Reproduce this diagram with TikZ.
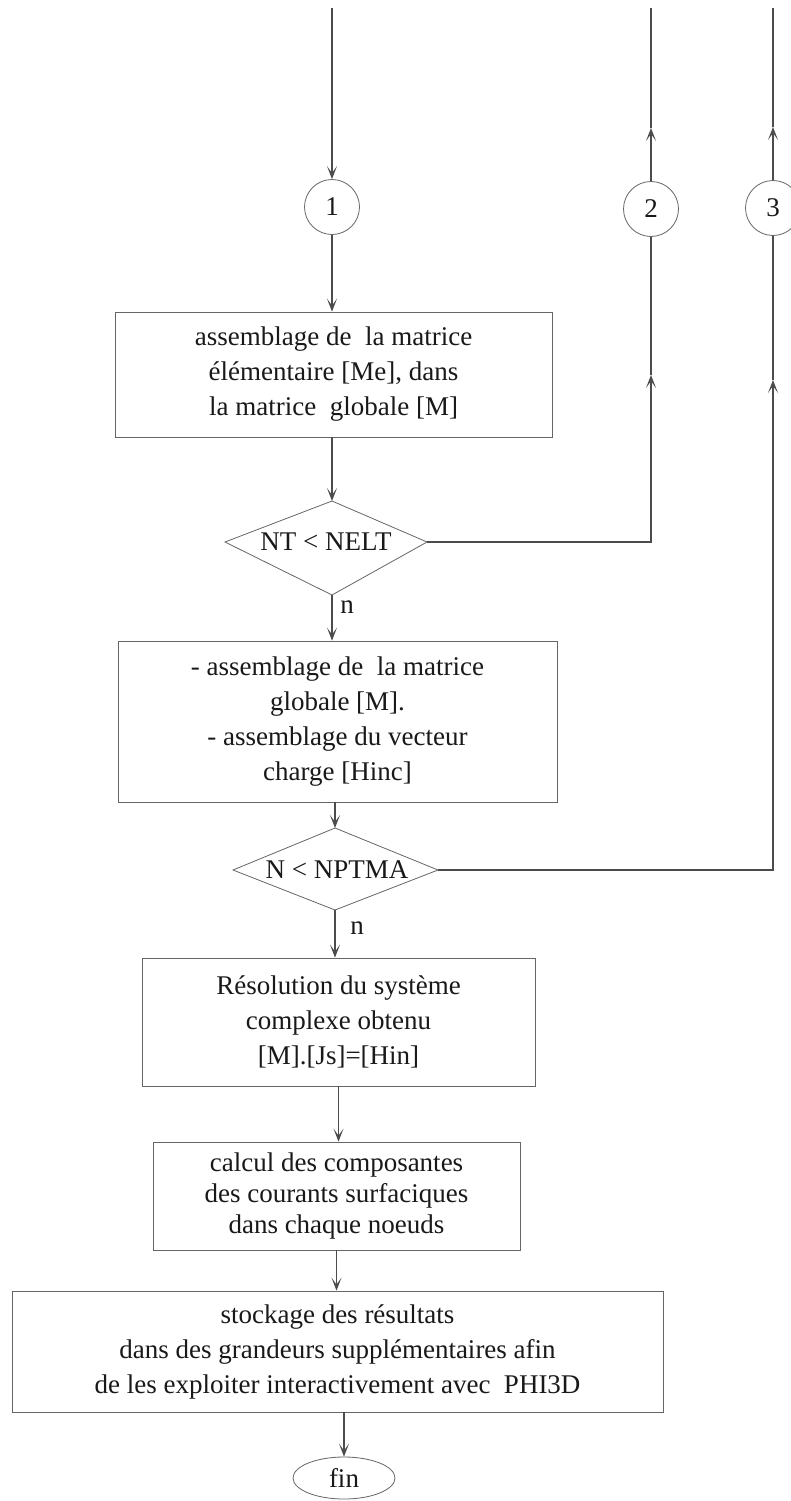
\documentclass[tikz,border=0pt]{standalone}
\usepackage{fontspec}
\setmainfont{Liberation Serif}
\usetikzlibrary{arrows.meta,shapes.geometric}
\begin{document}
\begin{tikzpicture}[x=1pt,y=-1pt,
  every node/.style={font=\fontsize{27}{35}\selectfont, text=black!90},
  box/.style={draw=black!60, line width=0.8pt, rectangle, align=center, inner sep=0pt},
  conn/.style={draw=black!70, line width=1.1pt},
  arr/.style={conn, -{Stealth[length=13pt,width=10pt,inset=7pt]}},
  ring/.style={draw=black!60, line width=0.8pt, circle, minimum size=55pt, inner sep=0pt},
  dshape/.style={draw=black!60, line width=0.8pt},
  endoval/.style={draw=black!60, line width=0.8pt, ellipse, minimum width=102pt, minimum height=42pt, inner sep=0pt}
]
\useasboundingbox (0,0) rectangle (790,1501);
\fill[white] (0,0) rectangle (790,1501);

% connector circles
\node[ring] (c1) at (332,207) {1};
\node[ring] (c2) at (651,209) {2};
\node[ring] (c3) at (773,208) {3};
\coordinate (s1) at (332,8);
\coordinate (s2) at (651,8);
\coordinate (s3) at (773,8);
\coordinate (u2) at (651,128);
\coordinate (u3) at (773,127);
\coordinate (m2) at (651,375);
\coordinate (m3) at (773,380);

% box 1
\node[box, minimum width=437pt, minimum height=125pt] (b1) at (333.5,374.5)
  {assemblage de\ \ la matrice\\élémentaire [Me], dans\\la matrice\ \ globale [M]};

% decision 1
\coordinate (d1t) at (332,501);
\coordinate (d1l) at (225,542);
\coordinate (d1r) at (427,542);
\coordinate (d1b) at (332,595);
\draw[dshape] (d1t) -- (d1r) -- (d1b) -- (d1l) -- cycle;
\node (d1) at (326,542) {NT < NELT};
\node (n1) at (347,607) {n};

% box 2
\node[box, minimum width=439pt, minimum height=161pt] (b2) at (337.5,721.5)
  {- assemblage de\ \ la matrice\\globale [M].\\- assemblage du vecteur\\charge [Hinc]};

% decision 2
\coordinate (d2t) at (335,828);
\coordinate (d2l) at (233,870);
\coordinate (d2r) at (438,870);
\coordinate (d2b) at (335,910);
\draw[dshape] (d2t) -- (d2r) -- (d2b) -- (d2l) -- cycle;
\node (d2) at (337,870) {N < NPTMA};
\node (n2) at (357,928) {n};

% box 3
\node[box, minimum width=393pt, minimum height=128pt] (b3) at (338.5,1022)
  {Résolution du système\\complexe obtenu\\{}[M].[Js]=[Hin]};

% box 4
\node[box, minimum width=367pt, minimum height=108pt, font=\fontsize{27}{31}\selectfont] (b4) at (336.5,1196)
  {calcul des composantes\\des courants surfaciques\\dans chaque noeuds};

% box 5
\node[box, minimum width=651pt, minimum height=121pt] (b5) at (337.5,1351.5)
  {stockage des résultats\\dans des grandeurs supplémentaires afin\\de les exploiter interactivement avec\ \ PHI3D};

% end
\node[endoval] (fin) at (344,1478) {fin};

% connectors
\draw[arr] (s1) -- (c1);
\draw[arr] (c1) -- (c1 |- b1.north);
\draw[arr] (d1t |- b1.south) -- (d1t);
\draw[arr] (d1b) -- (d1b |- b2.north);
\draw[arr] (d1r) -| (m2);
\draw[conn] (m2) -- (c2);
\draw[arr] (c2) -- (u2);
\draw[conn] (u2) -- (s2);
\draw[arr] (d2t |- b2.south) -- (d2t);
\draw[arr] (d2b) -- (d2b |- b3.north);
\draw[arr] (d2r) -| (m3);
\draw[conn] (m3) -- (c3);
\draw[arr] (c3) -- (u3);
\draw[conn] (u3) -- (s3);
\draw[arr] (b3.south) -- (b3.south |- b4.north);
\draw[arr] (b4.south) -- (b4.south |- b5.north);
\draw[arr] (fin |- b5.south) -- (fin);
\end{tikzpicture}
\end{document}
